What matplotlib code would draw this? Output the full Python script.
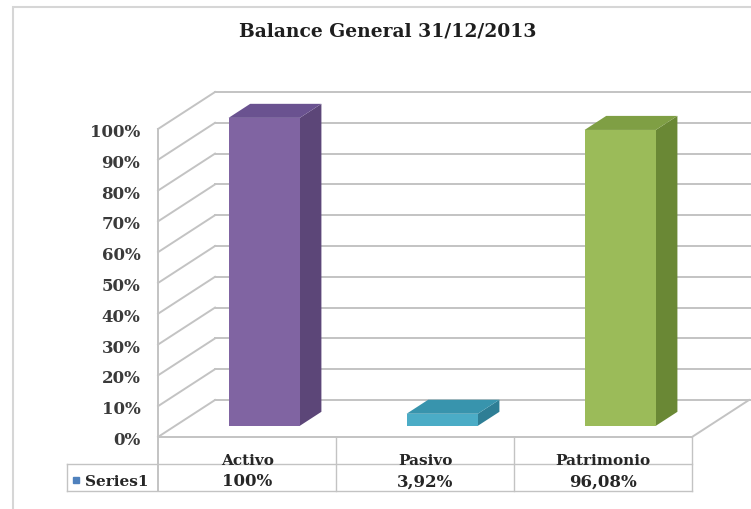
import matplotlib
matplotlib.use("Agg")
import matplotlib.pyplot as plt
from matplotlib.patches import Polygon, Rectangle

# data
categories = ["Activo", "Pasivo", "Patrimonio"]
values = [100, 3.92, 96.08]
value_labels = ["100%", "3,92%", "96,08%"]
ticks = [0, 10, 20, 30, 40, 50, 60, 70, 80, 90, 100]
series_name = "Series1"
title = "Balance General 31/12/2013"

front_cols = ["#8064A2", "#4BACC6", "#9BBB59"]
side_cols = ["#5C4678", "#2E7E95", "#6A8835"]
top_cols = ["#6A5290", "#3894AD", "#7F9F44"]

plt.rcParams["font.family"] = ["DejaVu Serif"]
plt.rcParams["font.weight"] = "bold"

fig = plt.figure(figsize=(7.51, 5.10), dpi=100)
ax = fig.add_axes([0, 0, 1, 1])
ax.set_xlim(-1.388, 2.831)
ax.set_ylim(-23.4, 142.2)
ax.axis("off")

DX, DY = 0.32, 12.0     # depth of the walls (x in category units, y in %)
D1, D2 = 0.30, 0.68     # front/back depth of the bars
BW = 0.40               # bar width
grid = "#C3C3C3"
lw = 1.4
n = len(categories)
row1, row2 = -8.8, -17.4
leg_x = -1.011

# chart border
fig.add_artist(Rectangle((13 / 751, -0.05), 1.2, 1 - 8 / 510 + 0.05,
                         transform=fig.transFigure, fill=False,
                         ec="#D6D6D6", lw=1.5))

# back wall + left wall gridlines
for v in ticks:
    ax.plot([-0.5 + DX, n - 0.5 + DX + 0.2], [v + DY, v + DY], color=grid, lw=lw, zorder=1)
    ax.plot([-0.5, -0.5 + DX], [v, v + DY], color=grid, lw=lw, zorder=1)
ax.plot([-0.5, -0.5], [ticks[-1], row2], color=grid, lw=lw, zorder=1)

# floor
ax.plot([-0.5, n - 0.5], [0, 0], color=grid, lw=lw, zorder=1)
ax.plot([n - 0.5, n - 0.5 + DX], [0, DY], color=grid, lw=lw, zorder=1)

# table
ax.plot([leg_x, n - 0.5], [row1, row1], color=grid, lw=1.0, zorder=1)
ax.plot([leg_x, n - 0.5], [row2, row2], color=grid, lw=1.0, zorder=1)
ax.plot([leg_x, leg_x], [row1, row2], color=grid, lw=1.0, zorder=1)
for i in range(n):
    ax.plot([i + 0.5, i + 0.5], [0, row2], color=grid, lw=1.0, zorder=1)

# 3d bars
for i, v in enumerate(values):
    x0 = i - BW / 2 + D1 * DX
    x1 = x0 + BW
    y0 = D1 * DY
    y1 = y0 + v
    s = (D2 - D1) * DX
    t = (D2 - D1) * DY
    side = [(x1, y0), (x1 + s, y0 + t), (x1 + s, y1 + t), (x1, y1)]
    top = [(x0, y1), (x1, y1), (x1 + s, y1 + t), (x0 + s, y1 + t)]
    front = [(x0, y0), (x1, y0), (x1, y1), (x0, y1)]
    ax.add_patch(Polygon(side, closed=True, fc=side_cols[i], ec="none", zorder=3))
    ax.add_patch(Polygon(top, closed=True, fc=top_cols[i], ec="none", zorder=3))
    ax.add_patch(Polygon(front, closed=True, fc=front_cols[i], ec="none", zorder=4))

# y tick labels
for v in ticks:
    ax.text(-0.6, v - 0.8, f"{v}%", ha="right", va="center",
            fontsize=12, color="#3A3A3A")

# table text
for i in range(n):
    ax.text(i, -7.6, categories[i], ha="center", va="center", fontsize=11, color="#262626")
    ax.text(i, -14.2, value_labels[i], ha="center", va="center", fontsize=12, color="#262626")
ax.plot(-0.963, -14.0, marker="s", ms=4, color="#4F81BD", lw=0)
ax.text(-0.91, -14.2, series_name, ha="left", va="center", fontsize=11, color="#262626")

fig.text(388 / 751, 1 - 31 / 510, title, ha="center", va="center",
         fontsize=13.5, color="#1E1E1E")

fig.savefig("out.png", dpi=100)
